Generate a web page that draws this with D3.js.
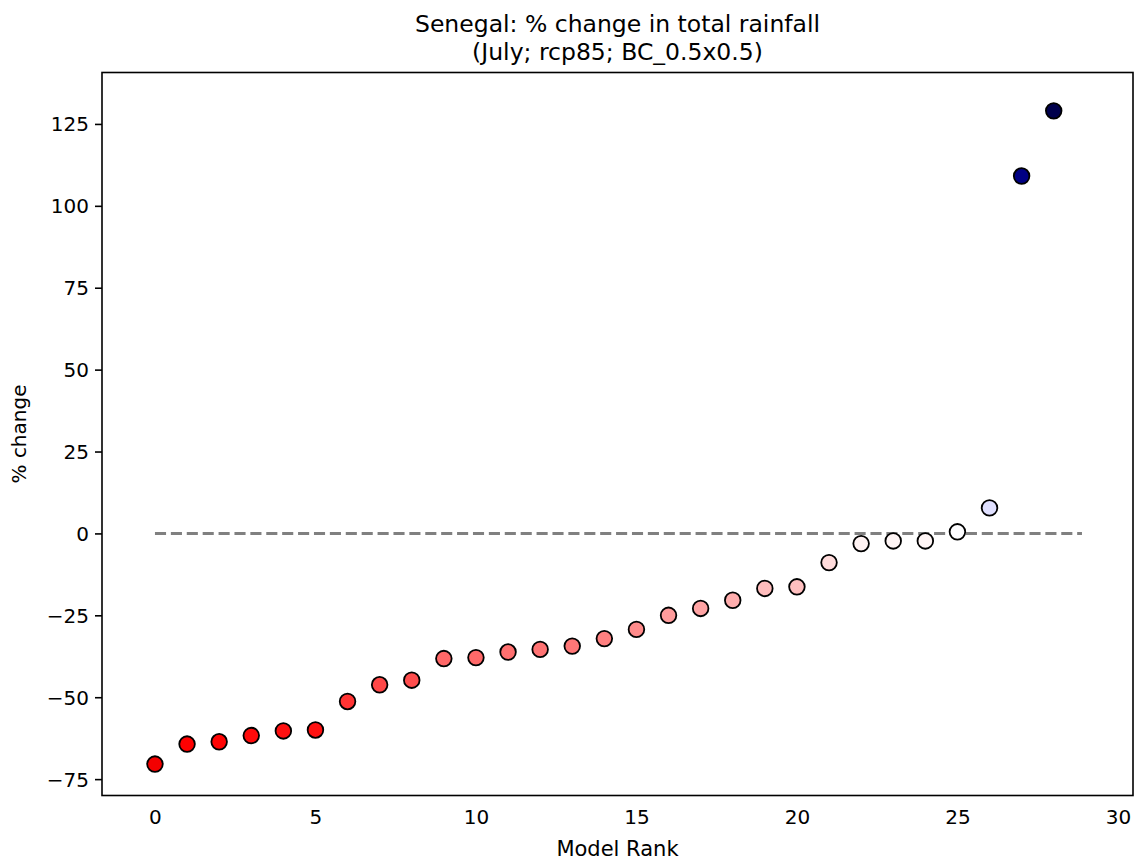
<!DOCTYPE html>
<html>
<head>
<meta charset="utf-8">
<script src="https://cdn.jsdelivr.net/npm/d3@7"></script>
<style>
  html, body { margin: 0; padding: 0; background: #fff; }
  svg text { font-family: "DejaVu Sans", sans-serif; fill: #000; }
</style>
</head>
<body>
<svg id="chart" width="1135" height="861"></svg>
<script>
// ---- data ----
const titleLines = ["Senegal: % change in total rainfall", "(July; rcp85; BC_0.5x0.5)"];
const xLabel = "Model Rank";
const yLabel = "% change";
const ranks = [0,1,2,3,4,5,6,7,8,9,10,11,12,13,14,15,16,17,18,19,20,21,22,23,24,25,26,27,28];
const pctChange = [-70.4,-64.3,-63.6,-61.7,-60.3,-60.0,-51.3,-46.2,-44.8,-38.2,-37.9,-36.2,-35.4,-34.4,-32.1,-29.3,-25.0,-22.9,-20.4,-16.8,-16.3,-8.9,-3.1,-2.3,-2.3,0.5,7.8,109.1,129.0];
const xTicks = [0,5,10,15,20,25,30];
const yTicks = [-75,-50,-25,0,25,50,75,100,125];
const zeroLineExtent = [0, 28.88];

// ---- layout ----
const svg = d3.select("#chart");
const box = {left: 102, right: 1133, top: 72.5, bottom: 795.5};

const x = d3.scaleLinear().domain([-1.65, 30.47]).range([box.left, box.right]);
const y = d3.scaleLinear().domain([-80.0, 140.7]).range([box.bottom, box.top]);

// seismic_r colormap, symmetric normalisation about zero
const vmax = d3.max(pctChange, d => Math.abs(d));
const color = d3.scaleLinear()
  .domain([-vmax, -vmax/2, 0, vmax/2, vmax])
  .range(["#800000", "#ff0000", "#ffffff", "#0000ff", "#00004c"])
  .interpolate(d3.interpolateRgb);

// title
svg.append("text").attr("x", (box.left+box.right)/2).attr("y", 32)
  .attr("text-anchor", "middle").attr("font-size", 23.5).text(titleLines[0]);
svg.append("text").attr("x", (box.left+box.right)/2).attr("y", 60)
  .attr("text-anchor", "middle").attr("font-size", 23.5).text(titleLines[1]);

// zero dashed line
svg.append("line")
  .attr("x1", x(zeroLineExtent[0])).attr("x2", x(zeroLineExtent[1]))
  .attr("y1", y(0)).attr("y2", y(0))
  .attr("stroke", "#808080").attr("stroke-width", 3)
  .attr("stroke-dasharray", "11.1,4.8");

// points
svg.append("g").selectAll("circle")
  .data(ranks.map((r, i) => ({r, v: pctChange[i]})))
  .join("circle")
  .attr("cx", d => x(d.r)).attr("cy", d => y(d.v))
  .attr("r", 7.8)
  .attr("fill", d => color(d.v))
  .attr("stroke", "#000").attr("stroke-width", 1.8);

// axes
const yAxis = d3.axisLeft(y).tickValues(yTicks).tickSize(7).tickPadding(6)
  .tickFormat(d => d < 0 ? "\u2212" + Math.abs(d) : d);
const gy = svg.append("g").attr("transform", `translate(${box.left},0)`).call(yAxis);
gy.select(".domain").remove();
gy.selectAll(".tick line").attr("stroke", "#000").attr("stroke-width", 1.6);
gy.selectAll(".tick text").attr("font-size", 20).attr("font-family", "DejaVu Sans").attr("dy", "0.35em");

const xAxis = d3.axisBottom(x).tickValues(xTicks).tickSize(0).tickPadding(14);
const gx = svg.append("g").attr("transform", `translate(0,${box.bottom})`).call(xAxis);
gx.select(".domain").remove();
gx.selectAll(".tick text").attr("font-size", 20).attr("font-family", "DejaVu Sans");

// frame
svg.append("rect")
  .attr("x", box.left).attr("y", box.top)
  .attr("width", box.right - box.left).attr("height", box.bottom - box.top)
  .attr("fill", "none").attr("stroke", "#000").attr("stroke-width", 1.6);

// axis labels
svg.append("text").attr("x", (box.left+box.right)/2).attr("y", 856)
  .attr("text-anchor", "middle").attr("font-size", 21).text(xLabel);
svg.append("text")
  .attr("transform", `translate(26,${(box.top+box.bottom)/2}) rotate(-90)`)
  .attr("text-anchor", "middle").attr("font-size", 20).text(yLabel);
</script>
</body>
</html>
